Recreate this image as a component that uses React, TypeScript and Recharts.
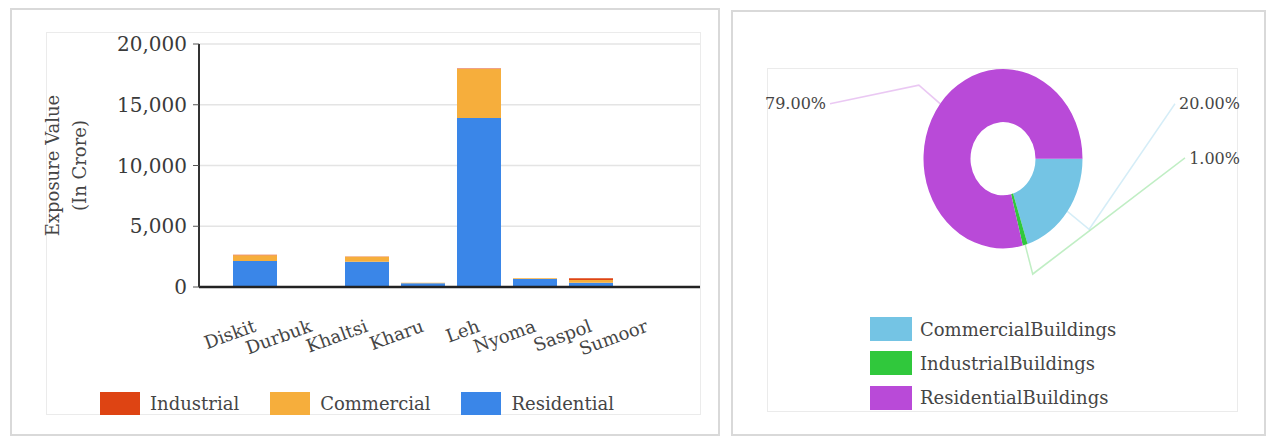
import React from 'react';
import { BarChart, Bar, XAxis, YAxis, CartesianGrid, Legend, PieChart, Pie, Cell } from 'recharts';

// exposure value per district, in crore
const districts = ['Diskit', 'Durbuk', 'Khaltsi', 'Kharu', 'Leh', 'Nyoma', 'Saspol', 'Sumoor'];
const residential = [2140, 20, 2080, 300, 13900, 650, 350, 30];
const commercial = [480, 5, 410, 45, 4040, 60, 220, 5];
const industrial = [30, 0, 20, 10, 50, 10, 150, 0];
const yTicks = [0, 5000, 10000, 15000, 20000];
const legendOrder = ['Industrial', 'Commercial', 'Residential'];

// share of exposure by building type, in percent
const buildingTypes = ['CommercialBuildings', 'IndustrialBuildings', 'ResidentialBuildings'];
const buildingShares = [20, 1, 79];

const barRows = districts.map((name, i) => ({
  name,
  Residential: residential[i],
  Commercial: commercial[i],
  Industrial: industrial[i],
}));
const pieRows = buildingTypes.map((name, i) => ({ name, value: buildingShares[i] }));

const FONT = '"DejaVu Serif", serif';
const TEXT = '#454545';
const BAR_COLORS: Record<string, string> = {
  Residential: '#3a86e8',
  Commercial: '#f6ae3c',
  Industrial: '#de4413',
};
const PIE_COLORS = ['#74c4e4', '#30c83c', '#b94ad8'];

// the donut is drawn a little taller than wide
const STRETCH = 1.128;
const PIE_W = 480;
const PIE_H = 240;
const PIE_CX = 241;
const PIE_CY = 98.7;
const LABEL_TOP = 50;
const LABEL_GAP = 48;

const pieTotal = buildingShares.reduce((a, b) => a + b, 0);
const pieSides = (() => {
  let acc = 0;
  return buildingShares.map((v) => {
    const mid = ((acc + v / 2) / pieTotal) * 2 * Math.PI;
    acc += v;
    return Math.cos(mid) >= 0 ? 'right' : 'left';
  });
})();

const XTick = (props: any) => {
  const { x, y, payload } = props;
  const tx = x + 2;
  const ty = y + 44;
  return (
    <text
      x={tx}
      y={ty}
      transform={`rotate(-20, ${tx}, ${ty})`}
      textAnchor="end"
      fontSize={18}
      fontFamily={FONT}
      fill={TEXT}
    >
      {payload.value}
    </text>
  );
};

const AxisTitle = (props: any) => {
  const { viewBox } = props;
  const cy = viewBox.y + viewBox.height / 2;
  const x1 = viewBox.x + 49;
  const x2 = viewBox.x + 76;
  return (
    <g fontFamily={FONT} fontSize={18} fill={TEXT}>
      <text x={x1} y={cy} transform={`rotate(-90, ${x1}, ${cy})`} textAnchor="middle">
        Exposure Value
      </text>
      <text x={x2} y={cy} transform={`rotate(-90, ${x2}, ${cy})`} textAnchor="middle">
        (In Crore)
      </text>
    </g>
  );
};

const BarLegend = (props: any) => {
  const items = [...(props.payload || [])].sort(
    (a: any, b: any) => legendOrder.indexOf(a.value) - legendOrder.indexOf(b.value)
  );
  return (
    <div style={{ display: 'flex', alignItems: 'center', fontFamily: FONT, fontSize: 18, color: TEXT }}>
      {items.map((it: any) => (
        <div key={it.value} style={{ display: 'flex', alignItems: 'center', marginRight: 31 }}>
          <span style={{ display: 'inline-block', width: 40, height: 23, background: it.color }} />
          <span style={{ marginLeft: 10 }}>{it.value}</span>
        </div>
      ))}
    </div>
  );
};

const renderPieLabel = (props: any) => {
  const { cx, cy, midAngle, outerRadius, index, percent } = props;
  const rad = (-midAngle * Math.PI) / 180;
  const cos = Math.cos(rad);
  const sin = Math.sin(rad);
  const sx = cx + outerRadius * cos;
  const sy = cy + outerRadius * sin;
  const ex = cx + (outerRadius + 27) * cos;
  const ey = cy + (outerRadius + 27) * sin;
  const side = pieSides[index];
  const row = pieSides.slice(0, index).filter((s) => s === side).length;
  const ly = LABEL_TOP + row * LABEL_GAP;
  const text = `${(percent * 100).toFixed(2)}%`;
  const tw = text.length * 10;
  const lx = side === 'right' ? PIE_W - 2 : 3;
  const lineEnd = side === 'right' ? lx - tw - 5 : lx + tw + 5;
  return (
    <g key={`lbl-${index}`}>
      <polyline
        points={`${sx},${sy} ${ex},${ey} ${lineEnd},${ly}`}
        fill="none"
        stroke={PIE_COLORS[index]}
        strokeOpacity={0.3}
        strokeWidth={1.5}
      />
      <text
        transform={`translate(${lx}, ${ly}) scale(1, ${1 / STRETCH})`}
        dy="0.35em"
        textAnchor={side === 'right' ? 'end' : 'start'}
        fontFamily={FONT}
        fontSize={16}
        fill={TEXT}
      >
        {text}
      </text>
    </g>
  );
};

const box = (left: number, top: number, width: number, height: number, border: string): React.CSSProperties => ({
  position: 'absolute',
  left,
  top,
  width,
  height,
  border,
  boxSizing: 'border-box',
});

export default function App() {
  return (
    <div style={{ position: 'absolute', left: 0, top: 0, width: 1277, height: 438, background: '#fff', overflow: 'hidden' }}>
      <div style={box(10, 8, 710, 428, '2px solid #d9d9d9')} />
      <div style={box(46, 32, 655, 383, '1px solid #ebebeb')} />
      <div style={box(731, 10, 535, 426, '2px solid #d9d9d9')} />
      <div style={box(767, 68, 471, 344, '1px solid #ebebeb')} />

      <div style={{ position: 'absolute', left: 10, top: 8 }}>
        <BarChart width={710} height={428} data={barRows} margin={{ top: 36, right: 20, bottom: 49, left: 0 }}>
          <CartesianGrid vertical={false} stroke="#e4e4e4" strokeWidth={1.5} />
          <XAxis
            dataKey="name"
            height={100}
            padding={{ left: 28, right: 25 }}
            axisLine={{ stroke: '#222', strokeWidth: 2.5 }}
            tickLine={false}
            tickSize={0}
            tickMargin={0}
            interval={0}
            tick={<XTick />}
          />
          <YAxis
            width={189}
            domain={[0, 20000]}
            ticks={yTicks}
            tickFormatter={(v: number) => v.toLocaleString('en-US')}
            axisLine={{ stroke: '#333', strokeWidth: 2 }}
            tickLine={{ stroke: '#555' }}
            tickSize={6}
            tickMargin={6}
            tick={{ fontSize: 20, fontFamily: FONT, fill: '#3a3a3a' }}
            label={<AxisTitle />}
          />
          <Legend
            content={<BarLegend />}
            layout="horizontal"
            verticalAlign="middle"
            align="center"
            wrapperStyle={{ top: 384, left: 90, width: 600 }}
          />
          <Bar dataKey="Residential" name="Residential" stackId="a" fill={BAR_COLORS.Residential} barSize={44} isAnimationActive={false} />
          <Bar dataKey="Commercial" name="Commercial" stackId="a" fill={BAR_COLORS.Commercial} barSize={44} isAnimationActive={false} />
          <Bar dataKey="Industrial" name="Industrial" stackId="a" fill={BAR_COLORS.Industrial} barSize={44} isAnimationActive={false} />
        </BarChart>
      </div>

      <div
        style={{
          position: 'absolute',
          left: 762,
          top: 60,
          width: PIE_W,
          height: PIE_H,
          transform: `scaleY(${STRETCH})`,
          transformOrigin: `${PIE_CX}px ${PIE_CY}px`,
        }}
      >
        <PieChart width={PIE_W} height={PIE_H} margin={{ top: 0, right: 0, bottom: 0, left: 0 }}>
          <Pie
            data={pieRows}
            dataKey="value"
            nameKey="name"
            cx={PIE_CX}
            cy={PIE_CY}
            innerRadius={32.5}
            outerRadius={79.5}
            startAngle={0}
            endAngle={-360}
            stroke="none"
            label={renderPieLabel}
            labelLine={false}
            isAnimationActive={false}
          >
            {pieRows.map((row, i) => (
              <Cell key={row.name} fill={PIE_COLORS[i]} />
            ))}
          </Pie>
        </PieChart>
      </div>

      <div style={{ position: 'absolute', left: 870, top: 312, fontFamily: FONT, fontSize: 18, color: TEXT }}>
        {buildingTypes.map((name, i) => (
          <div key={name} style={{ display: 'flex', alignItems: 'center', height: 34.3 }}>
            <span style={{ display: 'inline-block', width: 42, height: 24, background: PIE_COLORS[i] }} />
            <span style={{ marginLeft: 8 }}>{name}</span>
          </div>
        ))}
      </div>
    </div>
  );
}
